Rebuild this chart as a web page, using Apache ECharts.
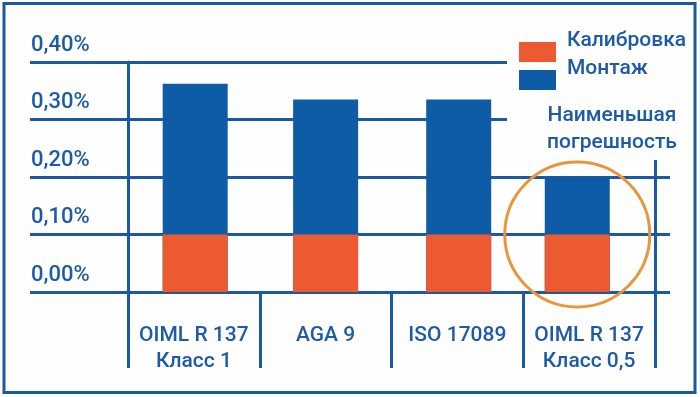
<!DOCTYPE html>
<html>
<head>
<meta charset="utf-8">
<script src="https://cdn.jsdelivr.net/npm/echarts@6/dist/echarts.min.js"></script>
<style>
html, body { margin: 0; padding: 0; background: #fdfefd; }
#chart { width: 700px; height: 397px; }
</style>
</head>
<body>
<div id="chart"></div>
<script>
// data
const categories = ['OIML R 137\nКласс 1', 'AGA 9', 'ISO 17089', 'OIML R 137\nКласс 0,5'];
const barPositions = [0.51, 1.5, 2.51, 3.41];   // bar centres, in category units (last bar sits a bit left)
const calibration = [0.10, 0.10, 0.10, 0.10];
const mounting = [0.262, 0.235, 0.235, 0.100];
const seriesNames = ['Калибровка', 'Монтаж'];
const noteText = 'Наименьшая\nпогрешность';

const lineColor = '#1b5aa3';
const textColor = '#1d5ba6';
const font = 'Roboto';

// blue part sits on top of the orange part
const totals = mounting.map(function (v, i) { return v + calibration[i]; });

var option = {
    backgroundColor: '#fdfefd',
    animation: false,
    grid: { left: 128, right: 45, top: 62, bottom: 105 },
    legend: {
        orient: 'vertical',
        left: 519,
        top: 20,
        padding: 0,
        // swatch sits in the lower half of the item, so the label reads a bit higher
        icon: 'path://M0,0M0,22L37,22L37,42L0,42Z',
        itemWidth: 37,
        itemHeight: 42,
        itemGap: -14,
        selectedMode: false,
        data: seriesNames,
        textStyle: { color: textColor, fontSize: 21, fontWeight: 500, fontFamily: font, padding: [0, 0, 0, 6] }
    },
    xAxis: [{
        type: 'category',
        data: categories,
        axisLine: { show: true, lineStyle: { color: lineColor, width: 3 } },
        axisTick: { show: true, length: 76, lineStyle: { color: lineColor, width: 3 } },
        axisLabel: { interval: 0, color: textColor, fontSize: 21, fontWeight: 500, lineHeight: 26, margin: 31, fontFamily: font },
        splitLine: { show: false }
    }, {
        type: 'value',
        min: 0,
        max: 4,
        show: false
    }],
    yAxis: [{
        type: 'value',
        min: 0,
        max: 0.4,
        interval: 0.1,
        position: 'left',
        axisLine: { show: true, lineStyle: { color: lineColor, width: 3 } },
        axisTick: { show: true, length: 98, lineStyle: { color: lineColor, width: 3 } },
        splitLine: { show: true, lineStyle: { color: lineColor, width: 3 } },
        axisLabel: {
            align: 'left',
            margin: 97,
            verticalAlign: 'bottom',
            padding: [0, 0, 6, 0],
            fontSize: 22,
            fontWeight: 500,
            fontFamily: font,
            color: textColor,
            formatter: function (v) {
                return v.toFixed(2).replace('.', ',') + '%';
            }
        }
    }, {
        type: 'value',
        min: 0,
        max: 0.4,
        interval: 0.1,
        position: 'right',
        axisLine: { show: true, lineStyle: { color: lineColor, width: 3 } },
        axisTick: { show: true, length: 15, lineStyle: { color: lineColor, width: 3 } },
        axisLabel: { show: false },
        splitLine: { show: false }
    }],
    graphic: [{
        // blank area behind the legend and the note
        type: 'rect',
        z: 1,
        shape: { x: 507, y: 40, width: 185, height: 120 },
        style: { fill: '#fdfefd' }
    }, {
        type: 'text',
        z: 5,
        x: 612,
        y: 102,
        style: {
            text: noteText,
            fill: textColor,
            font: '500 21px ' + font,
            lineHeight: 27,
            align: 'center',
            verticalAlign: 'top'
        }
    }, {
        type: 'rect',
        z: 6,
        shape: { x: 4, y: 3.5, width: 691, height: 389 },
        style: { fill: 'none', stroke: lineColor, lineWidth: 3 }
    }],
    series: [{
        name: seriesNames[1],
        type: 'bar',
        xAxisIndex: 1,
        barWidth: 65,
        barGap: '-100%',
        data: barPositions.map(function (x, i) { return [x, totals[i]]; }),
        itemStyle: { color: '#0d5ca5' },
        markPoint: {
            silent: true,
            symbol: 'circle',
            symbolSize: 145,
            label: { show: false },
            itemStyle: { color: 'rgba(0,0,0,0)', borderColor: '#e8963c', borderWidth: 3 },
            data: [{ coord: [barPositions[3], calibration[3]] }]
        }
    }, {
        name: seriesNames[0],
        type: 'bar',
        xAxisIndex: 1,
        barWidth: 65,
        barGap: '-100%',
        data: barPositions.map(function (x, i) { return [x, calibration[i]]; }),
        itemStyle: { color: '#ec5a32' }
    }]
};

var chart = echarts.init(document.getElementById('chart'));
chart.setOption(option);
</script>
</body>
</html>
